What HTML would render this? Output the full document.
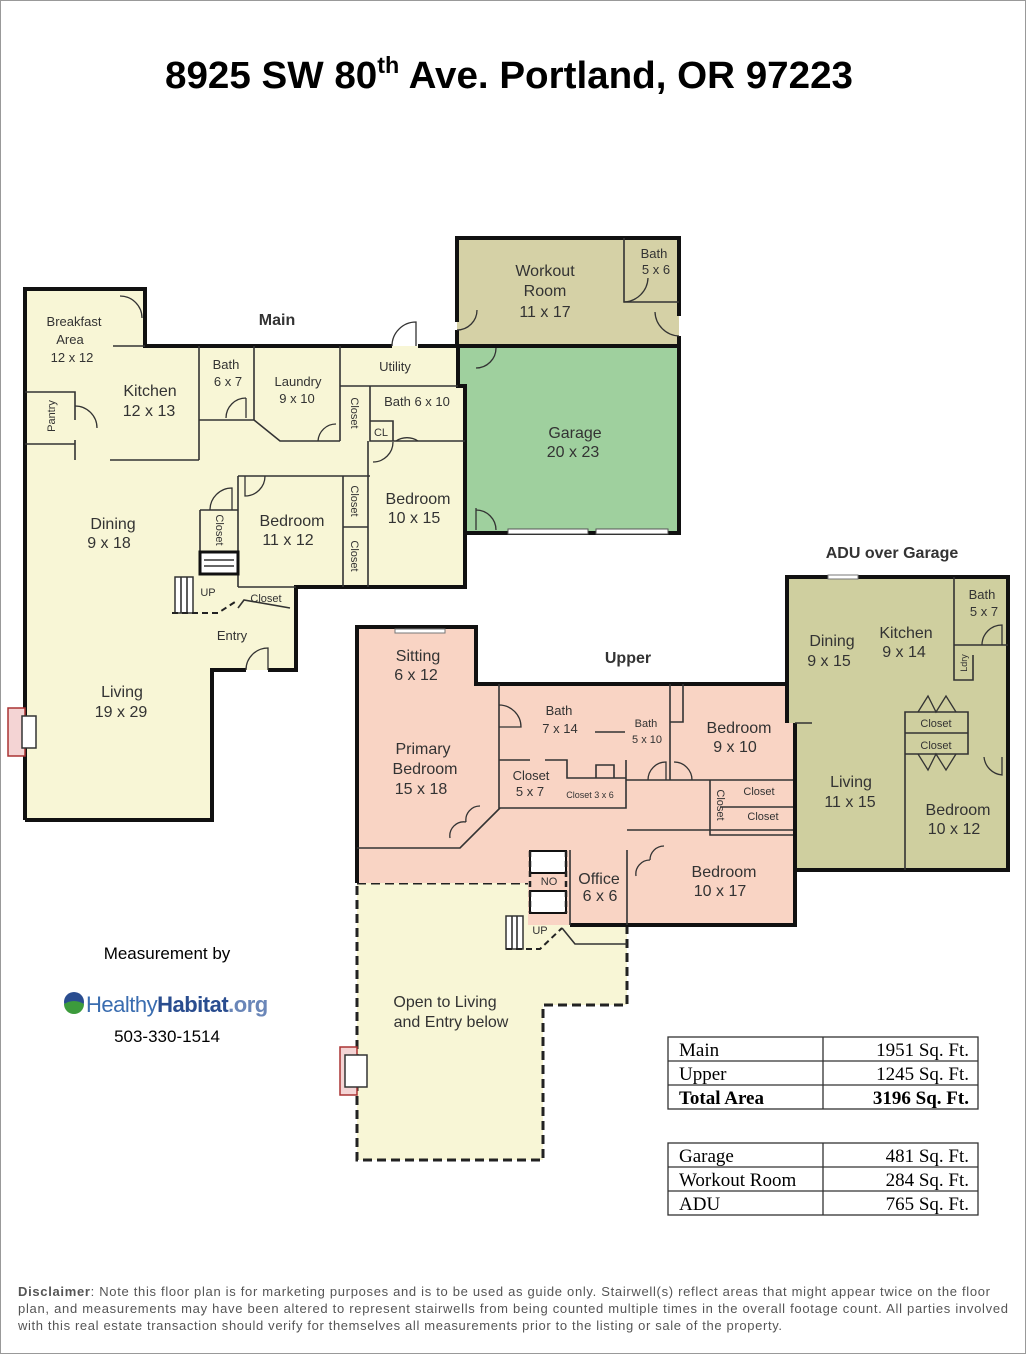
<!DOCTYPE html>
<html><head><meta charset="utf-8"><style>
html,body{margin:0;padding:0;background:#fff}
svg{display:block}
.t{font-family:"Liberation Sans",sans-serif;fill:#333;font-size:16px;text-anchor:middle}
.s{font-size:13px}
.x{font-size:11px}
.w{stroke:#111;stroke-width:4;fill:none;stroke-linejoin:miter}
.i{stroke:#333;stroke-width:1.6;fill:none}
.d{stroke:#333;stroke-width:1.3;fill:none}
.tb{font-family:"Liberation Serif",serif;font-size:19px;fill:#000}
</style></head><body>
<svg width="1026" height="1354" viewBox="0 0 1026 1354" xmlns="http://www.w3.org/2000/svg">
<rect x="0.5" y="0.5" width="1025" height="1353" fill="#fff" stroke="#999"/>
<text x="509" y="88" font-family="Liberation Sans,sans-serif" font-weight="bold" font-size="38" text-anchor="middle" fill="#000" textLength="688" lengthAdjust="spacingAndGlyphs">8925 SW 80<tspan font-size="23" dy="-15">th</tspan><tspan dy="15"> Ave. Portland, OR 97223</tspan></text>

<!-- Workout & Garage -->
<rect x="457" y="238" width="222" height="108" fill="#d5d1a6"/>
<rect x="458" y="346" width="221" height="187" fill="#9fd09e"/>
<path class="w" d="M457 322V238H679V316 M679 336V533H458V346H679 M457 330V346"/>
<path class="i" d="M624 238V302H679"/>
<rect x="508" y="529" width="80" height="5" fill="#fff" stroke="#555" stroke-width="1"/>
<rect x="596" y="529" width="72" height="5" fill="#fff" stroke="#555" stroke-width="1"/>
<path class="d" d="M624 302A25 25 0 0 0 648 278 M679 336A25 25 0 0 1 655 312 M457 330A20 20 0 0 0 477 310 M476 368A20 20 0 0 0 496 348 M476 510A20 20 0 0 1 496 530 M476 508V530"/>
<text class="t" x="545" y="276">Workout</text><text class="t" x="545" y="296">Room</text><text class="t" x="545" y="317">11 x 17</text>
<text class="t s" x="654" y="258">Bath</text><text class="t s" x="656" y="274">5 x 6</text>
<text class="t" x="575" y="438">Garage</text><text class="t" x="573" y="457">20 x 23</text>

<!-- Main -->
<path fill="#f8f6d6" d="M25 289H145V346H458V386H465V587H296V670H212V820H25Z"/>
<path class="w" d="M25 820V289H145V346H392 M418 346H458V386H465V587H296V670H268 M246 670H212V820H25 M145 289V316"/>
<path class="i" d="M113 346H145 M199 346V460 M110 460H199 M25 392H75V420 M75 440V460 M25 444H75 M254 346V420 M199 420H254 M254 420L280 441H340 M340 346V441 M340 386H458 M370 386V441H465 M370 421H393V441 M238 476H370 M238 476V587 M343 476V587 M343 527H368 M368 441V587 M200 510H238 M200 510V552 M238 587H296 M238 608L244 600L290 608"/>
<rect x="200" y="552" width="38" height="22" fill="#fff" stroke="#111" stroke-width="3"/>
<path class="i" d="M204 560H234M204 566H234"/>
<rect x="175" y="577" width="18" height="36" fill="#fff" stroke="#333" stroke-width="1.5"/>
<path class="i" d="M181 577V613M187 577V613"/>
<path stroke="#222" stroke-width="2" stroke-dasharray="6,4" fill="none" d="M172 613H218L238 600"/>
<rect x="8" y="708" width="17" height="48" fill="#f4d4d4" stroke="#a33" stroke-width="1.5"/>
<rect x="22" y="716" width="14" height="32" fill="#fff" stroke="#333" stroke-width="1.5"/>
<path class="d" d="M120 296A22 22 0 0 1 142 318 M75 406A22 22 0 0 1 97 428 M226 418A20 20 0 0 1 246 398 M246 418V398 M392 346A24 24 0 0 1 416 322V346 M246 670A22 22 0 0 1 268 648V670 M210 510A22 22 0 0 1 232 488V510 M245 476V496A20 20 0 0 0 265 476 M373 462A20 20 0 0 0 393 442 M396 441A20 20 0 0 1 418 441 M318 441A18 18 0 0 1 336 424"/>
<text class="t" x="277" y="325" font-weight="bold">Main</text>
<text class="t s" x="74" y="326">Breakfast</text><text class="t s" x="70" y="344">Area</text><text class="t s" x="72" y="362">12 x 12</text>
<text class="t" x="150" y="396">Kitchen</text><text class="t" x="149" y="416">12 x 13</text>
<text class="t x" transform="translate(55 416) rotate(-90)">Pantry</text>
<text class="t s" x="226" y="369">Bath</text><text class="t s" x="228" y="386">6 x 7</text>
<text class="t s" x="298" y="386">Laundry</text><text class="t s" x="297" y="403">9 x 10</text>
<text class="t s" x="395" y="371">Utility</text>
<text class="t s" x="417" y="406">Bath 6 x 10</text>
<text class="t x" transform="translate(351 413) rotate(90)">Closet</text>
<text class="t x" x="381" y="436">CL</text>
<text class="t" x="418" y="504">Bedroom</text><text class="t" x="414" y="523">10 x 15</text>
<text class="t" x="292" y="526">Bedroom</text><text class="t" x="288" y="545">11 x 12</text>
<text class="t x" transform="translate(351 501) rotate(90)">Closet</text>
<text class="t x" transform="translate(351 556) rotate(90)">Closet</text>
<text class="t x" transform="translate(216 530) rotate(90)">Closet</text>
<text class="t" x="113" y="529">Dining</text><text class="t" x="109" y="548">9 x 18</text>
<text class="t x" x="208" y="596">UP</text>
<text class="t x" x="266" y="602">Closet</text>
<text class="t s" x="232" y="640">Entry</text>
<text class="t" x="122" y="697">Living</text><text class="t" x="121" y="717">19 x 29</text>

<!-- Upper dashed open area -->
<path fill="#f8f6d6" d="M357 883H528V925H627V1005H543V1160H357Z"/>
<path stroke="#222" stroke-width="3" stroke-dasharray="9,5" fill="none" d="M357 883H528 M627 925V1005H543V1160H357V883"/>
<rect x="340" y="1047" width="17" height="48" fill="#f4d4d4" stroke="#a33" stroke-width="1.5"/>
<rect x="345" y="1055" width="22" height="32" fill="#fff" stroke="#333" stroke-width="1.5"/>
<text class="t" x="445" y="1007">Open to Living</text><text class="t" x="451" y="1027">and Entry below</text>
<rect x="506" y="916" width="17" height="33" fill="#fff" stroke="#333" stroke-width="1.5"/>
<path class="i" d="M512 916V949M517 916V949"/>
<path stroke="#222" stroke-width="2" stroke-dasharray="6,4" fill="none" d="M506 949H540L562 928"/>
<path class="i" d="M562 928L575 944H627"/>
<text class="t x" x="540" y="934">UP</text>

<!-- Upper pink -->
<path fill="#f9d4c4" d="M357 627H476V684H795V925H528V883H357Z"/>
<path class="w" d="M357 883V627H476V684H787 M795 723V925H570"/>
<path class="i" d="M499 684V808H626V780H670V684 M499 760H530 M545 760H567V778H626 M596 778V765H614V778 M626 760V808L618 808 M670 780H795 M710 780V835H795 M720 807H795 M357 848H460L500 808 M627 830H795 M627 850V925 M570 850V925 M595 732H625 M683 684V722H670"/>
<rect x="530" y="851" width="36" height="22" fill="#fff" stroke="#111" stroke-width="2"/>
<rect x="530" y="891" width="36" height="22" fill="#fff" stroke="#111" stroke-width="2"/>
<path stroke="#222" stroke-width="2.5" stroke-dasharray="6,4" fill="none" d="M530 851V913M566 851V913"/>
<path class="d" d="M499 705A22 22 0 0 1 521 727H499 M648 780A18 18 0 0 1 666 762V780 M674 762A18 18 0 0 1 692 780 M450 838A14 14 0 0 1 466 822 M466 822A14 14 0 0 1 480 806 M636 876A14 14 0 0 1 650 860 M650 860A14 14 0 0 1 664 846"/>
<rect x="395" y="629" width="50" height="4" fill="#fff" stroke="#777" stroke-width="1"/>
<text class="t" x="628" y="663" font-weight="bold">Upper</text>
<text class="t" x="418" y="661">Sitting</text><text class="t" x="416" y="680">6 x 12</text>
<text class="t" x="423" y="754">Primary</text><text class="t" x="425" y="774">Bedroom</text><text class="t" x="421" y="794">15 x 18</text>
<text class="t s" x="559" y="715">Bath</text><text class="t s" x="560" y="733">7 x 14</text>
<text class="t x" x="646" y="727">Bath</text><text class="t x" x="647" y="743">5 x 10</text>
<text class="t" x="739" y="733">Bedroom</text><text class="t" x="735" y="752">9 x 10</text>
<text class="t s" x="531" y="780">Closet</text><text class="t s" x="530" y="796">5 x 7</text>
<text class="t" x="590" y="798" style="font-size:9px">Closet 3 x 6</text>
<text class="t x" x="759" y="795">Closet</text>
<text class="t x" x="763" y="820">Closet</text>
<text class="t x" transform="translate(717 805) rotate(90)">Closet</text>
<text class="t x" x="549" y="885">NO</text>
<text class="t" x="599" y="884">Office</text><text class="t" x="600" y="901">6 x 6</text>
<text class="t" x="724" y="877">Bedroom</text><text class="t" x="720" y="896">10 x 17</text>

<!-- ADU -->
<path fill="#cfcf9f" d="M787 577H1008V870H795V723H787Z"/>
<path class="w" d="M787 723V577H1008V870H795V723"/>
<path class="i" d="M954 577V645H1008 M954 645V680H973V655 M905 712H968V754H905Z M905 733H968 M905 754V870 M795 723H812"/>
<rect x="828" y="575" width="30" height="4" fill="#fff" stroke="#777" stroke-width="1"/>
<path class="d" d="M982 645A20 20 0 0 1 1002 625V645 M984 757A20 20 0 0 0 1002 775V757 M918 712L928 696L936 712L946 696L956 712 M918 754L928 770L936 754L946 770L956 754"/>
<text class="t" x="892" y="558" font-weight="bold">ADU over Garage</text>
<text class="t s" x="982" y="599">Bath</text><text class="t s" x="984" y="616">5 x 7</text>
<text class="t" x="832" y="646">Dining</text><text class="t" x="829" y="666">9 x 15</text>
<text class="t" x="906" y="638">Kitchen</text><text class="t" x="904" y="657">9 x 14</text>
<text class="t" transform="translate(967 663) rotate(-90)" style="font-size:9px">Ldry</text>
<text class="t x" x="936" y="727">Closet</text><text class="t x" x="936" y="749">Closet</text>
<text class="t" x="851" y="787">Living</text><text class="t" x="850" y="807">11 x 15</text>
<text class="t" x="958" y="815">Bedroom</text><text class="t" x="954" y="834">10 x 12</text>

<!-- Measurement by -->
<text x="167" y="959" font-family="Liberation Sans,sans-serif" font-size="17" text-anchor="middle" fill="#000">Measurement by</text>
<circle cx="74" cy="1002" r="10" fill="#2a4d8f"/>
<path d="M64 1004Q74 998 84 1004A10 10 0 0 1 64 1004Z" fill="#3c9b3c"/>
<text x="86" y="1012" font-family="Liberation Sans,sans-serif" font-size="22" fill="#3a6db0" letter-spacing="-0.5">Healthy<tspan font-weight="bold" fill="#2a4d8f">Habitat</tspan><tspan font-weight="bold" fill="#6a86b8">.org</tspan></text>
<text x="167" y="1042" font-family="Liberation Sans,sans-serif" font-size="17" text-anchor="middle" fill="#000">503-330-1514</text>

<!-- Tables -->
<g stroke="#333" stroke-width="1.3" fill="none">
<rect x="668" y="1037" width="310" height="72"/><path d="M668 1061H978M668 1085H978M823 1037V1109"/>
<rect x="668" y="1143" width="310" height="72"/><path d="M668 1167H978M668 1191H978M823 1143V1215"/>
</g>
<text class="tb" x="679" y="1056">Main</text><text class="tb" x="969" y="1056" text-anchor="end">1951 Sq. Ft.</text>
<text class="tb" x="679" y="1080">Upper</text><text class="tb" x="969" y="1080" text-anchor="end">1245 Sq. Ft.</text>
<text class="tb" x="679" y="1104" font-weight="bold">Total Area</text><text class="tb" x="969" y="1104" text-anchor="end" font-weight="bold">3196 Sq. Ft.</text>
<text class="tb" x="679" y="1162">Garage</text><text class="tb" x="969" y="1162" text-anchor="end">481 Sq. Ft.</text>
<text class="tb" x="679" y="1186">Workout Room</text><text class="tb" x="969" y="1186" text-anchor="end">284 Sq. Ft.</text>
<text class="tb" x="679" y="1210">ADU</text><text class="tb" x="969" y="1210" text-anchor="end">765 Sq. Ft.</text>

<g font-family="Liberation Sans,sans-serif" font-size="13" fill="#555">
<text x="18" y="1296" textLength="972" lengthAdjust="spacing"><tspan font-weight="bold">Disclaimer</tspan>: Note this floor plan is for marketing purposes and is to be used as guide only.  Stairwell(s) reflect areas that might appear twice on the floor</text>
<text x="18" y="1313" textLength="990" lengthAdjust="spacing">plan, and measurements may have been altered to represent stairwells from being counted multiple times in the overall footage count.  All parties involved</text>
<text x="18" y="1330" textLength="764" lengthAdjust="spacing">with this real estate transaction should verify for themselves all measurements prior to the listing or sale of the property.</text>
</g>
</svg>
</body></html>
